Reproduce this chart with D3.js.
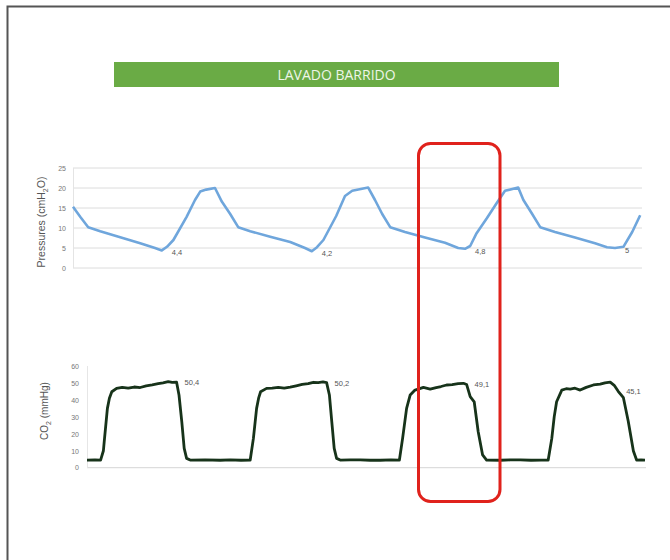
<!DOCTYPE html>
<html>
<head>
<meta charset="utf-8">
<script src="https://cdn.jsdelivr.net/npm/d3@7"></script>
<style>
  html, body { margin: 0; padding: 0; background: #fff; }
  svg { display: block; }
</style>
</head>
<body>
<svg id="chart" width="670" height="560"></svg>
<script>
// ---- Data ----------------------------------------------------------
const title = "LAVADO BARRIDO";

// Airway pressure trace (time in s, pressure in cmH2O)
const pressureTime = [0.00, 0.18, 0.38, 0.68, 1.18, 1.68, 2.05, 2.22, 2.35, 2.51, 2.84, 3.05, 3.18, 3.33, 3.55, 3.72, 3.93, 4.13,
  4.43, 4.93, 5.43, 5.80, 5.97, 6.10, 6.26, 6.58, 6.80, 6.98, 7.38, 7.55, 7.73, 7.93,
  8.30, 8.80, 9.30, 9.63, 9.80, 9.93, 10.09, 10.35, 10.59, 10.80, 11.13, 11.26, 11.48, 11.68,
  12.05, 12.55, 13.05, 13.35, 13.55, 13.76, 13.98, 14.18];
const pressureValue = [15.3, 12.8, 10.2, 9.2, 7.7, 6.2, 5.0, 4.4, 5.3, 7.0, 12.8, 17.0, 19.1, 19.6, 20.0, 16.6, 13.5, 10.2,
  9.2, 7.8, 6.5, 5.0, 4.2, 5.2, 7.0, 13.0, 18.0, 19.3, 20.1, 17.0, 13.5, 10.2,
  9.0, 7.6, 6.3, 5.0, 4.8, 5.5, 8.7, 12.5, 16.2, 19.3, 20.1, 17.0, 13.5, 10.2,
  9.0, 7.6, 6.2, 5.2, 5.0, 5.3, 9.0, 13.2];
// indices of the end-expiratory minima that carry a value label
const pressureLabelIdx = [7, 22, 36, 50];
const pressureTicks = [0, 5, 10, 15, 20, 25];

// Capnogram trace (time in s, CO2 in mmHg)
const co2Time = [0.00, 0.20, 0.34, 0.41, 0.43, 0.51, 0.56, 0.62, 0.74, 0.88, 1.03, 1.18, 1.33, 1.48, 1.63, 1.78, 1.90, 2.03, 2.13, 2.24,
  2.30, 2.37, 2.43, 2.49, 2.58, 2.95, 3.33, 3.58, 3.85, 4.08,
  4.16, 4.24, 4.29, 4.34, 4.49, 4.63, 4.78, 4.93, 5.08, 5.23, 5.38, 5.53, 5.66, 5.78, 5.90, 5.99,
  6.06, 6.12, 6.18, 6.24, 6.33, 6.58, 6.83, 7.08, 7.33, 7.60, 7.81,
  7.89, 7.99, 8.08, 8.20, 8.30, 8.41, 8.58, 8.73, 8.85, 8.99, 9.13, 9.28, 9.41, 9.49,
  9.58, 9.68, 9.78, 9.89, 9.99, 10.33, 10.58, 10.83, 11.10, 11.35, 11.53,
  11.62, 11.68, 11.74, 11.87, 11.98, 12.08, 12.20, 12.33, 12.48, 12.66, 12.83, 12.95, 13.08, 13.18, 13.28,
  13.41, 13.53, 13.66, 13.74, 13.85, 13.95];
const co2Value = [4.5, 4.6, 4.5, 10.0, 15.3, 35.0, 41.0, 44.8, 46.8, 47.4, 46.9, 47.6, 47.3, 48.3, 48.9, 49.6, 50.1, 50.8, 50.3, 50.4,
  42.9, 27.0, 11.4, 5.5, 4.5, 4.6, 4.4, 4.6, 4.4, 4.5,
  17.3, 35.0, 41.0, 44.8, 46.8, 47.0, 47.4, 46.9, 47.5, 48.3, 49.1, 49.6, 50.4, 50.2, 50.6, 50.2,
  42.9, 27.0, 11.4, 5.5, 4.5, 4.6, 4.6, 4.4, 4.4, 4.6, 4.5,
  17.3, 35.0, 42.9, 45.8, 46.5, 47.4, 46.4, 47.3, 47.9, 48.8, 49.0, 49.6, 49.8, 49.1,
  41.9, 38.9, 21.2, 7.5, 4.5, 4.4, 4.6, 4.6, 4.4, 4.5, 4.5,
  17.3, 30.0, 38.9, 45.8, 46.6, 46.4, 46.9, 45.8, 47.4, 48.8, 49.3, 50.1, 50.5, 48.6, 45.1,
  41.3, 27.5, 9.8, 4.5, 4.6, 4.5];
// indices of the end-tidal points that carry a value label
const co2LabelIdx = [19, 45, 70, 96];
const co2Ticks = [0, 10, 20, 30, 40, 50, 60];

// ---- Drawing -------------------------------------------------------
const svg = d3.select("#chart");
const fmt = d3.formatLocale({ decimal: ",", thousands: ".", grouping: [3], currency: ["", ""] }).format("~r");
const axisFont = "'Liberation Sans', Arial, sans-serif";

// outer frame (continues past the right and bottom edges)
svg.append("path")
  .attr("d", "M7.5,580 V6.5 H690")
  .attr("fill", "none").attr("stroke", "#555").attr("stroke-width", 2);

// title banner
svg.append("rect")
  .attr("x", 114).attr("y", 62).attr("width", 445).attr("height", 25)
  .attr("fill", "#6aab45");
svg.append("text")
  .attr("x", 336.5).attr("y", 79.5)
  .attr("text-anchor", "middle")
  .attr("font-family", "'Open Sans', Lato, sans-serif")
  .attr("font-size", 14)
  .attr("fill", "#eef5e8")
  .text(title);

// ---------- pressure panel ----------
const xP = d3.scaleLinear().domain([0, 14.2]).range([73, 641]);
const yP = d3.scaleLinear().domain([0, 25]).range([268, 168]);

const gP = svg.append("g");
gP.selectAll("line.grid").data(pressureTicks).join("line")
  .attr("class", "grid")
  .attr("x1", 73).attr("x2", 642)
  .attr("y1", d => yP(d)).attr("y2", d => yP(d))
  .attr("stroke", "#dcdcdc").attr("stroke-width", 1);
gP.append("line")
  .attr("x1", 73.5).attr("x2", 73.5).attr("y1", yP(25)).attr("y2", yP(0))
  .attr("stroke", "#e4e4e4");

const axP = d3.axisLeft(yP).tickValues(pressureTicks).tickSize(0).tickPadding(7);
gP.append("g").attr("transform", "translate(73,0)").call(axP)
  .call(g => g.select(".domain").remove())
  .selectAll("text")
  .attr("font-family", axisFont).attr("font-size", 7).attr("fill", "#777");

const pPts = pressureTime.map((t, i) => [t, pressureValue[i]]);
gP.append("path")
  .datum(pPts)
  .attr("fill", "none")
  .attr("stroke", "#6fa6dc")
  .attr("stroke-width", 2.6)
  .attr("stroke-linejoin", "round")
  .attr("d", d3.line().x(d => xP(d[0])).y(d => yP(d[1])));

gP.selectAll("text.val").data(pressureLabelIdx).join("text")
  .attr("class", "val")
  .attr("x", i => xP(pressureTime[i]) + 10)
  .attr("y", i => yP(pressureValue[i]) + 5)
  .attr("font-family", axisFont).attr("font-size", 7.5).attr("fill", "#555")
  .text(i => fmt(pressureValue[i]));

const yLabP = gP.append("text")
  .attr("transform", "translate(45,222) rotate(-90)")
  .attr("text-anchor", "middle")
  .attr("font-family", axisFont).attr("font-size", 10.5).attr("fill", "#555");
yLabP.append("tspan").text("Pressures (cmH");
yLabP.append("tspan").attr("font-size", 7).attr("dy", 2.5).text("2");
yLabP.append("tspan").attr("dy", -2.5).text("O)");

// ---------- CO2 panel ----------
const xC = d3.scaleLinear().domain([0, 13.95]).range([87, 645]);
const yC = d3.scaleLinear().domain([0, 60]).range([467.7, 366]);

const gC = svg.append("g");
gC.append("line")
  .attr("x1", 87).attr("x2", 646).attr("y1", yC(0)).attr("y2", yC(0))
  .attr("stroke", "#d6d6d6");
gC.append("line")
  .attr("x1", 87.5).attr("x2", 87.5).attr("y1", yC(60)).attr("y2", yC(0))
  .attr("stroke", "#e6e6e6");

const axC = d3.axisLeft(yC).tickValues(co2Ticks).tickSize(0).tickPadding(8);
gC.append("g").attr("transform", "translate(87,0)").call(axC)
  .call(g => g.select(".domain").remove())
  .selectAll("text")
  .attr("font-family", axisFont).attr("font-size", 7).attr("fill", "#777");

const cPts = co2Time.map((t, i) => [t, co2Value[i]]);
gC.append("path")
  .datum(cPts)
  .attr("fill", "none")
  .attr("stroke", "#17331a")
  .attr("stroke-width", 2.8)
  .attr("stroke-linejoin", "round")
  .attr("d", d3.line().x(d => xC(d[0])).y(d => yC(d[1])));

gC.selectAll("text.val").data(co2LabelIdx).join("text")
  .attr("class", "val")
  .attr("x", i => xC(co2Time[i]) + 8)
  .attr("y", i => yC(co2Value[i]) + 3)
  .attr("font-family", axisFont).attr("font-size", 7.5).attr("fill", "#555")
  .text(i => fmt(co2Value[i]));

const yLabC = gC.append("text")
  .attr("transform", "translate(48,411) rotate(-90)")
  .attr("text-anchor", "middle")
  .attr("font-family", axisFont).attr("font-size", 10).attr("fill", "#555");
yLabC.append("tspan").text("CO");
yLabC.append("tspan").attr("font-size", 7).attr("dy", 2.5).text("2");
yLabC.append("tspan").attr("dy", -2.5).text(" (mmHg)");

// highlighted breath: red rounded box spanning both panels
svg.append("rect")
  .attr("x", 418.5).attr("y", 143.5)
  .attr("width", 81.5).attr("height", 358)
  .attr("rx", 12).attr("ry", 12)
  .attr("fill", "none")
  .attr("stroke", "#e0221c")
  .attr("stroke-width", 3);
</script>
</body>
</html>
